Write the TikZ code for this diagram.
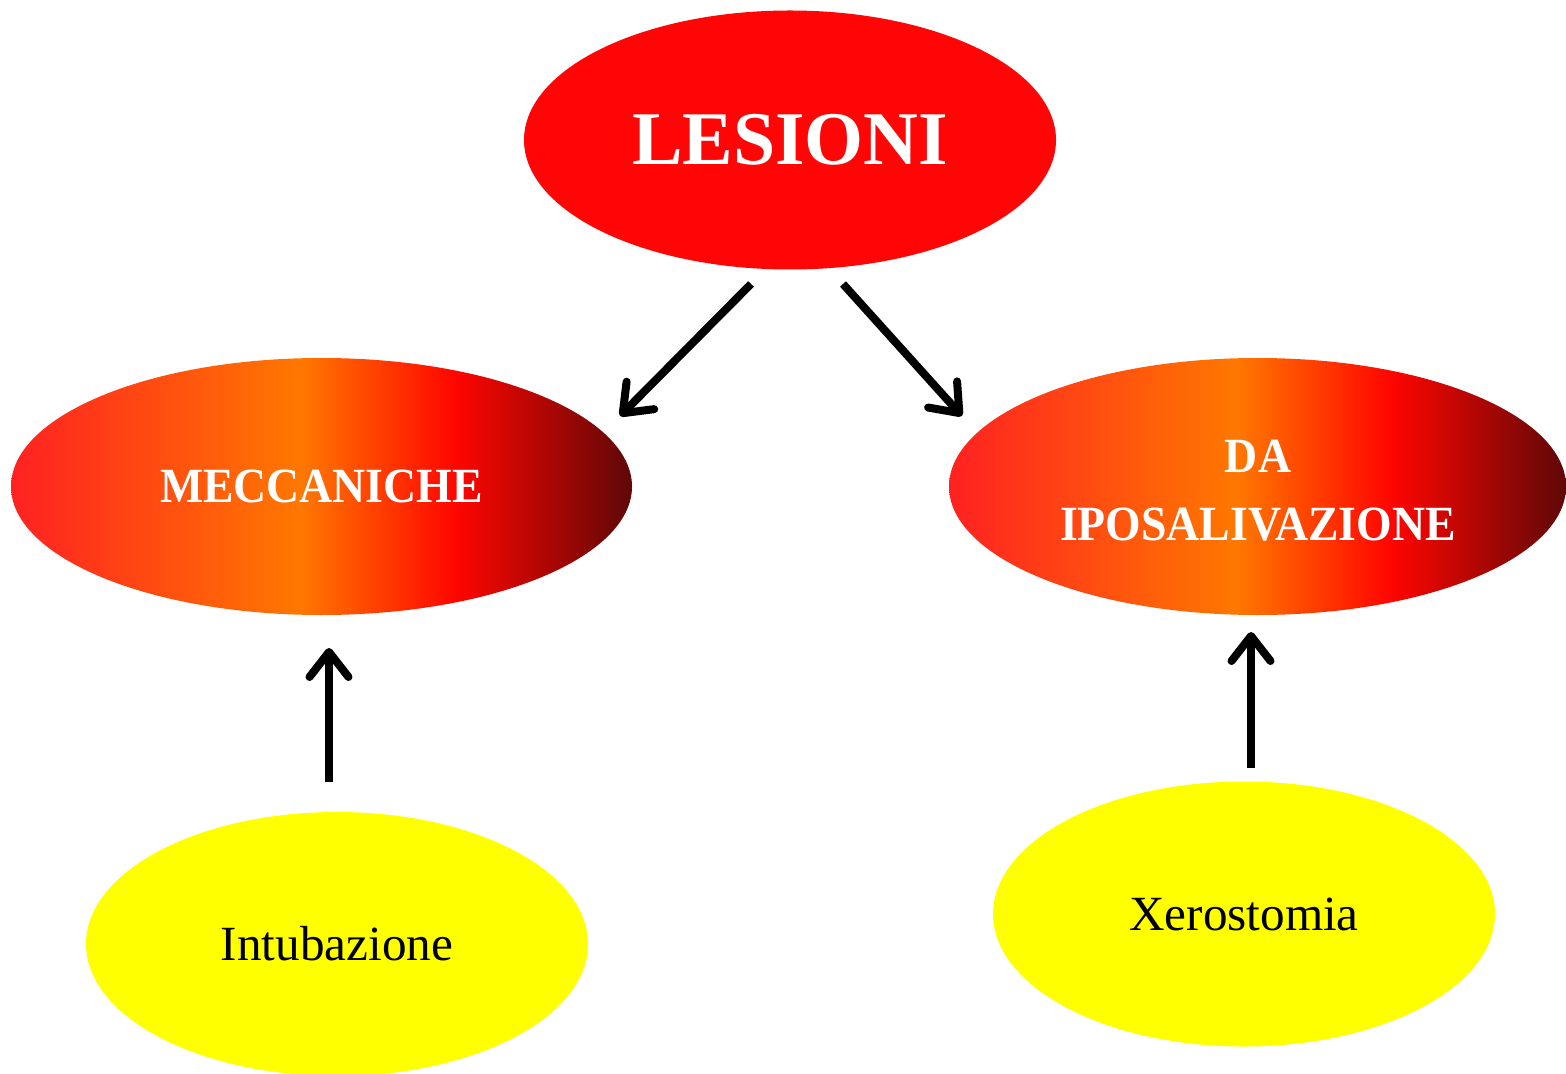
\documentclass[tikz,border=0pt]{standalone}
\usepackage{fontspec}
\setmainfont{Liberation Serif}
\newfontfamily\narrowserif[FakeStretch=0.93]{Liberation Serif}
\usetikzlibrary{shapes.geometric,arrows.meta}
\pgfdeclarehorizontalshading{fire}{100bp}{rgb(0bp)=(1,0.13,0.13); rgb(25bp)=(1,0.13,0.13); rgb(48.3bp)=(1,0.47,0); rgb(60.8bp)=(1,0.02,0); rgb(75bp)=(0.37,0.03,0.03); rgb(100bp)=(0.37,0.03,0.03)}
\begin{document}
\begin{tikzpicture}[x=0.5pt,y=-0.5pt,
  redell/.style={ellipse, fill={rgb,255:red,255;green,5;blue,5}, draw=none, inner sep=0pt, text=white, font=\bfseries\fontsize{37.9}{45}\selectfont},
  fireell/.style={ellipse, shading=fire, draw=none, inner sep=0pt, text=white, font=\narrowserif\bfseries\fontsize{24.6}{34}\selectfont},
  firetext/.style={inner sep=0pt, text=white, align=center, font=\narrowserif\bfseries\fontsize{24.6}{34}\selectfont},
  yelell/.style={ellipse, fill={rgb,255:red,255;green,255;blue,0}, draw=none, inner sep=0pt, text=black, font=\fontsize{24.6}{30}\selectfont},
  conn/.style={line width=4pt, -{Straight Barb[length=12.5pt,width=19.5pt,round]}}]
\useasboundingbox (0,0) rectangle (1566,1074);
\node[redell, minimum width=266pt, minimum height=129.5pt] (les) at (790,140) {\makebox[0pt]{LESIONI}};
\node[fireell, minimum width=310.5pt, minimum height=128.5pt] (mec) at (321.5,486.5) {\makebox[0pt]{MECCANICHE}};
\node[fireell, minimum width=308.5pt, minimum height=128.5pt] (ipo) at (1257.5,486.5) {};
\node[firetext] (ipotext) at (1258,491) {DA\\IPOSALIVAZIONE};
\node[yelell, minimum width=251pt, minimum height=132pt] (intu) at (337,944) {\makebox[0pt]{Intubazione}};
\node[yelell, minimum width=251pt, minimum height=132.5pt] (xer) at (1244,914) {\makebox[0pt]{Xerostomia}};
\coordinate (a1s) at (751,284);
\coordinate (a1e) at (620,416);
\coordinate (a2s) at (843,284);
\coordinate (a2e) at (962,416);
\coordinate (a3s) at (329,782);
\coordinate (a3e) at (329,648);
\coordinate (a4s) at (1251,768);
\coordinate (a4e) at (1251,632);
\draw[conn] (a1s) -- (a1e);
\draw[conn] (a2s) -- (a2e);
\draw[conn] (a3s) -- (a3e);
\draw[conn] (a4s) -- (a4e);
\end{tikzpicture}
\end{document}
